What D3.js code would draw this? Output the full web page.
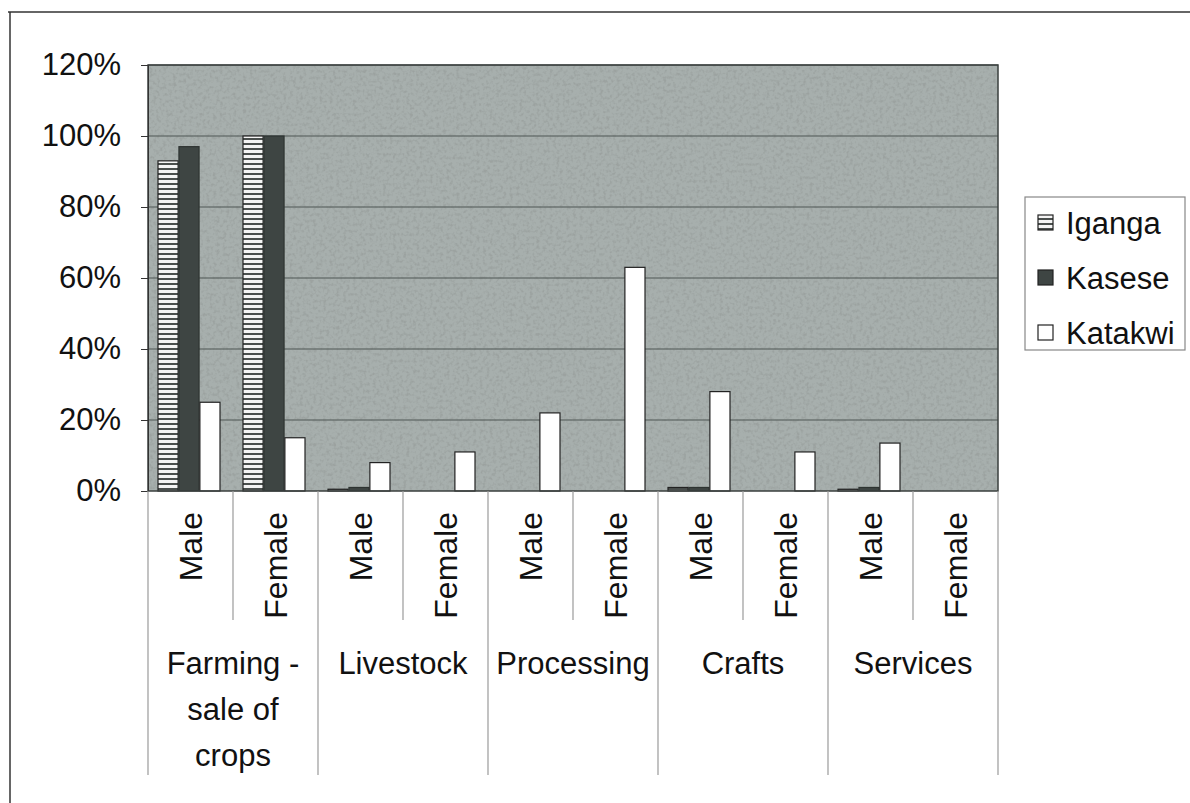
<!DOCTYPE html>
<html><head><meta charset="utf-8">
<script src="https://cdn.jsdelivr.net/npm/d3@7/dist/d3.min.js"></script>
<style>body{margin:0;background:#fff}svg{display:block;font-family:"Liberation Sans",Arial,sans-serif}</style>
</head><body><svg id="c" width="1190" height="803"></svg>
<script>
const categories = ["Farming -\nsale of\ncrops", "Livestock", "Processing", "Crafts", "Services"];
const genders = ["Male", "Female"];
const seriesNames = ["Iganga", "Kasese", "Katakwi"];
// values per slot (category x gender), in %
const iganga  = [93, 100, 0.5, 0, 0, 0, 1, 0, 0.5, 0];
const kasese  = [97, 100, 1, 0, 0, 0, 1, 0, 1, 0];
const katakwi = [25, 15, 8, 11, 22, 63, 28, 11, 13.5, 0];
const yTicks = [0, 20, 40, 60, 80, 100, 120];

const svg = d3.select("#c");
const L = 148, R = 998, T = 65, B = 491;
const FS = 31;
const slots = [];
categories.forEach((c, ci) => genders.forEach(g => slots.push({ci, g, key: ci + "-" + g})));
const seriesVals = [iganga, kasese, katakwi];

const y = d3.scaleLinear().domain([0, 120]).range([B, T]);
const x0 = d3.scaleBand().domain(slots.map(s => s.key)).range([L, R]);
const x1 = d3.scaleBand().domain(seriesNames).range([10, 72]).paddingInner(0.04);

// outer frame
svg.append("line").attr("x1", 8).attr("x2", 1190).attr("y1", 12).attr("y2", 12).attr("stroke", "#333").attr("stroke-width", 1.5);
svg.append("line").attr("x1", 10).attr("x2", 10).attr("y1", 12).attr("y2", 803).attr("stroke", "#333").attr("stroke-width", 1.5);

const defs = svg.append("defs");
const pat = defs.append("pattern").attr("id", "stripe").attr("patternUnits", "userSpaceOnUse").attr("width", 6).attr("height", 5);
pat.append("rect").attr("width", 6).attr("height", 5).attr("fill", "#f4f4f4");
pat.append("rect").attr("y", 3).attr("width", 6).attr("height", 2).attr("fill", "#4a4f4d");
const flt = defs.append("filter").attr("id", "noise").attr("x", 0).attr("y", 0).attr("width", "100%").attr("height", "100%");
flt.append("feTurbulence").attr("type", "fractalNoise").attr("baseFrequency", 0.3).attr("numOctaves", 2).attr("seed", 7).attr("result", "n");
flt.append("feColorMatrix").attr("in", "n").attr("type", "matrix")
  .attr("values", "0 0 0 0 0.3  0 0 0 0 0.33  0 0 0 0 0.32  0 0 0 -3.2 1.75");

// plot background
svg.append("rect").attr("x", L).attr("y", T).attr("width", R - L).attr("height", B - T).attr("fill", "#a7afad");
svg.append("rect").attr("x", L).attr("y", T).attr("width", R - L).attr("height", B - T).attr("filter", "url(#noise)").attr("opacity", 0.6);

// gridlines
svg.append("g").selectAll("line").data(yTicks.filter(t => t > 0)).join("line")
  .attr("x1", L).attr("x2", R).attr("y1", d => y(d)).attr("y2", d => y(d))
  .attr("stroke", "#4e5654").attr("stroke-width", 1.2);

// bars
const fills = ["url(#stripe)", "#3e4543", "#ffffff"];
seriesNames.forEach((s, si) => {
  svg.append("g").selectAll("rect").data(slots.map((sl, i) => ({sl, v: seriesVals[si][i]})).filter(d => d.v > 0)).join("rect")
    .attr("x", d => x0(d.sl.key) + x1(s)).attr("width", x1.bandwidth())
    .attr("y", d => y(d.v)).attr("height", d => B - y(d.v))
    .attr("fill", fills[si]).attr("stroke", si === 1 ? "#2e3432" : "#222").attr("stroke-width", 1.2);
});

// plot border
svg.append("rect").attr("x", L).attr("y", T).attr("width", R - L).attr("height", B - T).attr("fill", "none").attr("stroke", "#3a3f3e").attr("stroke-width", 1.5);

// y axis
const yAxis = d3.axisLeft(y).tickValues(yTicks).tickFormat(d => d + "%").tickSize(7).tickPadding(20);
const ga = svg.append("g").attr("transform", `translate(${L},0)`).call(yAxis);
ga.select(".domain").attr("stroke", "#333");
ga.selectAll(".tick line").attr("stroke", "#333");
ga.selectAll("text").attr("font-size", FS).attr("fill", "#111").attr("font-family", "Liberation Sans, Arial, sans-serif");

// x axis divider lines
const bounds = d3.range(slots.length + 1);
svg.append("g").selectAll("line").data(bounds).join("line")
  .attr("x1", i => i < slots.length ? x0(slots[i].key) : R)
  .attr("x2", i => i < slots.length ? x0(slots[i].key) : R)
  .attr("y1", B).attr("y2", i => i % 2 === 0 ? 775 : 620)
  .attr("stroke", "#9a9a9a").attr("stroke-width", 1.2);

// gender labels (rotated)
svg.append("g").selectAll("text").data(slots).join("text")
  .attr("transform", d => `translate(${x0(d.key) + x0.bandwidth() / 2 + 11},512) rotate(-90)`)
  .attr("text-anchor", "end").attr("font-size", FS + 1).attr("fill", "#111").text(d => d.g);

// category labels
const cx = d3.scaleBand().domain(categories).range([L, R]);
svg.append("g").selectAll("text").data(categories).join("text")
  .attr("x", d => cx(d) + cx.bandwidth() / 2).attr("y", 674).attr("text-anchor", "middle")
  .attr("font-size", FS).attr("fill", "#111")
  .each(function (d) {
    d.split("\n").forEach((ln, i) => d3.select(this).append("tspan")
      .attr("x", cx(d) + cx.bandwidth() / 2).attr("dy", i === 0 ? 0 : 46).text(ln));
  });

// legend
const lg = svg.append("g");
lg.append("rect").attr("x", 1025).attr("y", 197).attr("width", 160).attr("height", 153).attr("fill", "#fff").attr("stroke", "#888").attr("stroke-width", 1.2);
seriesNames.forEach((s, i) => {
  const cy = 223 + i * 55;
  lg.append("rect").attr("x", 1038).attr("y", cy - 8).attr("width", 15).attr("height", 15)
    .attr("fill", fills[i]).attr("stroke", "#222").attr("stroke-width", 1.2);
  lg.append("text").attr("x", 1066).attr("y", cy + 11).attr("font-size", FS).attr("fill", "#111").text(s);
});
</script></body></html>
